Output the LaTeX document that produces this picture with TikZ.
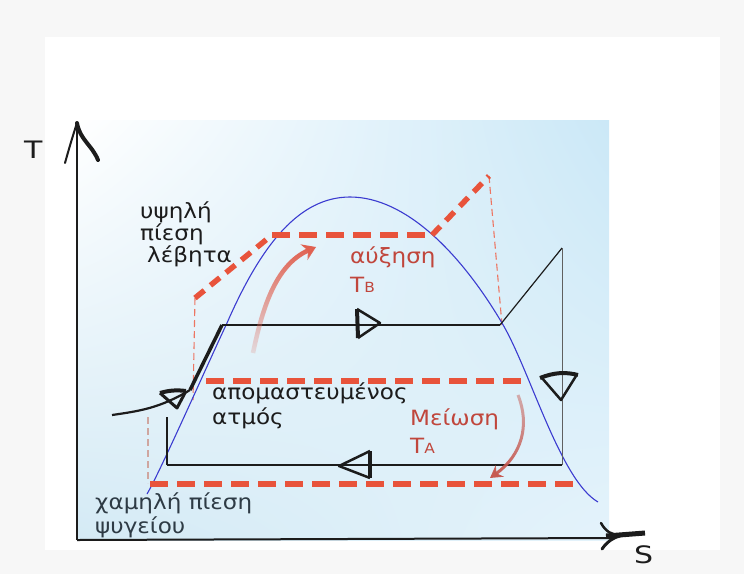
\documentclass[tikz,border=0pt]{standalone}
\usepackage{fontspec}
\setmainfont{DejaVu Sans}
\newfontfamily\labfont[FakeStretch=1.1]{DejaVu Sans}
\newfontfamily\axfont[FakeStretch=1.25]{DejaVu Sans}
\usetikzlibrary{fadings,shadings,arrows.meta}
\definecolor{bggray}{HTML}{F7F7F7}
\definecolor{skyA}{HTML}{CBE8F7}
\definecolor{skyB}{HTML}{D4EAF5}
\definecolor{skyC}{HTML}{E4F3FB}
\definecolor{redD}{HTML}{E8533B}
\definecolor{redT}{HTML}{C0463C}
\definecolor{redA}{HTML}{E0604F}
\definecolor{domeblue}{HTML}{3B3BD0}
\definecolor{slate}{HTML}{2E3B45}
\definecolor{ink}{HTML}{1C1C1C}
\tikzfading[name=fadeup, top color=transparent!0, bottom color=transparent!85]
\tikzfading[name=fadedown, top color=transparent!55, bottom color=transparent!0]
\tikzset{
  reddash/.style={draw=redD, line width=5.5pt, dash pattern=on 18pt off 9pt},
  reddiag/.style={draw=redD, line width=5.5pt, dash pattern=on 12pt off 8pt},
  thindash/.style={draw=redD!80, line width=1.1pt, dash pattern=on 7pt off 4pt},
  cycline/.style={draw=ink, line width=1.6pt},
  handtip/.style={draw=ink, line width=3pt, line join=round, fill=none},
  lbl/.style={font=\labfont\fontsize{21}{24}\selectfont, text=ink, inner sep=0pt},
  redlbl/.style={font=\labfont\fontsize{21}{24}\selectfont, text=redT, inner sep=0pt},
  axlbl/.style={font=\axfont\fontsize{24}{26}\selectfont, text=ink, inner sep=0pt}
}
\begin{document}
\begin{tikzpicture}[x=1pt,y=-1pt]
\useasboundingbox (0,0) rectangle (744,574);
\fill[bggray] (0,0) rectangle (744,574);
\fill[white] (45,37) rectangle (720,550);
\shade[upper left=white, upper right=skyA, lower left=skyB, lower right=skyC] (77,120) rectangle (609,540);

% coordinates of the cycle
\coordinate (A) at (167,465);
\coordinate (B) at (167,417);
\coordinate (Cin) at (112,415);
\coordinate (C) at (190,390);
\coordinate (D) at (222,325);
\coordinate (E) at (500,325);
\coordinate (F) at (562,248);
\coordinate (G) at (562,465);

% red dashed (boiler high / low)
\coordinate (r1) at (195,298);
\coordinate (r2) at (272,235);
\coordinate (r3) at (432,235);
\coordinate (r4) at (489,176);
\coordinate (r5) at (502,325);
\coordinate (r6) at (193,400);
\coordinate (m1) at (206,381);
\coordinate (m2) at (526,381);
\coordinate (b1) at (150,484);
\coordinate (b2) at (580,484);
\coordinate (g1) at (148,417);
\coordinate (g2) at (148,483);

\draw[thindash] (r1) -- (r6);
\draw[draw=redD!45!gray!60, line width=1.2pt, dash pattern=on 7pt off 4pt] (g1) -- (g2);
\draw[thindash] (r4) -- (r5);

% saturation dome
\draw[domeblue, line width=1.1pt] (147,494) .. controls (160,472) and (205,370) .. (227,323)
  .. controls (262,243) and (300,197) .. (350,197)
  .. controls (405,197) and (460,252) .. (502,323)
  .. controls (530,370) and (560,480) .. (598,502);

% red dashed
\draw[reddiag] (r1) -- (r2);
\draw[reddash] (r2) -- (r3);
\draw[reddiag] (r3) -- (r4);
\draw[reddash] (m1) -- (m2);
\draw[reddash] (b1) -- (b2);

% cycle
\draw[cycline] (A) -- (B);
\draw[cycline, line width=2.2pt] (Cin) .. controls (140,411) and (160,408) .. (C);
\draw[draw=ink, line width=3.5pt] (C) -- (D);
\draw[cycline] (D) -- (E);
\draw[cycline, line width=1.2pt] (E) -- (F);
\draw[draw=ink!70, line width=0.8pt] (F) -- (G);
\draw[cycline] (G) -- (A);

% hand drawn arrowheads
\draw[handtip, line width=4pt] (160,393) .. controls (170,390) and (178,390) .. (186,391);
\draw[handtip, line width=3pt] (186,391) -- (177,408) -- (160,393);
\draw[handtip, line width=4pt] (357,309) -- (358,338);
\draw[handtip, line width=2.5pt] (357,309) -- (380,323) -- (358,338);
\draw[handtip, line width=4pt] (540,378) .. controls (555,372) and (566,372) .. (578,375);
\draw[handtip, line width=2.5pt] (542,378) -- (561,400) -- (576,376);
\draw[handtip, line width=4pt] (370,451) -- (370,478);
\draw[handtip, line width=2.5pt] (370,451) -- (339,466) -- (370,478);

% axes
\coordinate (O) at (77,540);
\coordinate (Ty) at (77,123);
\coordinate (Sx) at (645,533);
\draw[draw=ink, line width=2.5pt] (O) -- (Ty);
\draw[draw=ink, line width=2pt] (O) -- (612,538);
\draw[draw=ink, line width=2pt, line cap=round] (65,163) .. controls (70,145) and (74,132) .. (Ty);
\draw[draw=ink, line width=4pt, line cap=round] (Ty) .. controls (80,140) and (92,145) .. (98,160);
\draw[draw=ink, line width=5pt] (606,536) -- (Sx);
\draw[draw=ink, line width=2.5pt, line cap=round] (601,523) .. controls (606,532) and (612,535) .. (620,535);
\draw[draw=ink, line width=3pt, line cap=round] (602,549) .. controls (607,542) and (612,538) .. (620,536);

% red curved arrows
\draw[draw=redA, line width=4.5pt, -{Stealth[length=13pt,width=17pt]}, path fading=fadeup]
  (253,353) .. controls (262,310) and (275,265) .. (316,247);
\draw[draw=redT!90, line width=3pt, -{Stealth[length=12pt,width=14pt,inset=4pt]}, path fading=fadedown]
  (518,395) .. controls (530,425) and (522,455) .. (490,478);

% labels
\node[axlbl, anchor=base west] (Tl) at (24,158) {T};
\node[axlbl, anchor=base west] (Sl) at (634,563) {S};
\node[lbl, anchor=base west] (h1) at (140,218) {υψηλή};
\node[lbl, anchor=base west] (h2) at (140,240) {πίεση};
\node[lbl, anchor=base west] (h3) at (147,262) {λέβητα};
\node[redlbl, anchor=base west] (tb1) at (350,263) {αύξηση};
\node[redlbl, anchor=base west] (tb2) at (350,292) {T{\fontsize{14}{15}\selectfont B}};
\node[lbl, anchor=base west] (s1) at (212,399) {απομαστευμένος};
\node[lbl, anchor=base west] (s2) at (212,424) {ατμός};
\node[redlbl, anchor=base west] (ta1) at (410,425) {Μείωση};
\node[redlbl, anchor=base west] (ta2) at (410,453) {T{\fontsize{14}{15}\selectfont A}};
\node[lbl, text=slate, anchor=base west] (c1) at (95,509) {χαμηλή πίεση};
\node[lbl, text=slate, anchor=base west] (c2) at (95,533) {ψυγείου};
\end{tikzpicture}
\end{document}
